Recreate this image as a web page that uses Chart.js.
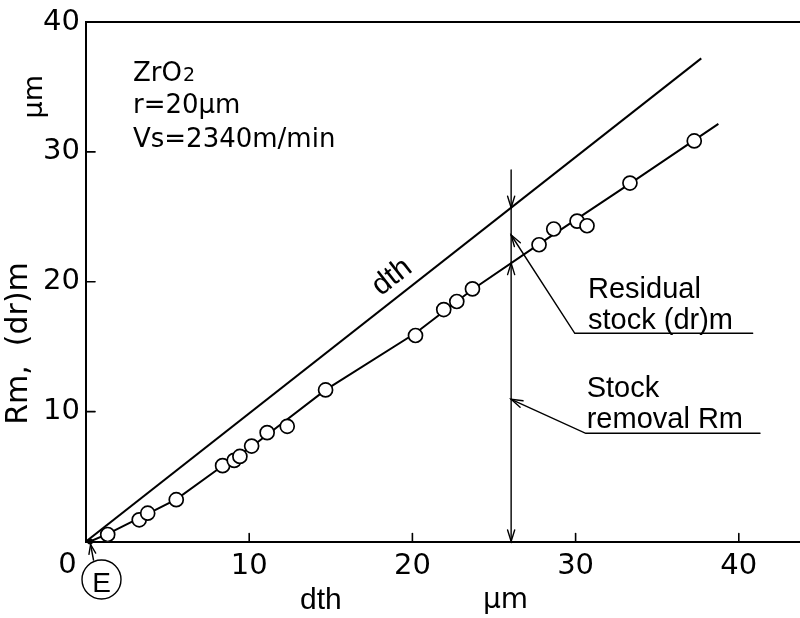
<!DOCTYPE html>
<html>
<head>
<meta charset="utf-8">
<title>ZrO2 stock removal</title>
<script src="https://cdn.jsdelivr.net/npm/chart.js@4/dist/chart.umd.min.js"></script>
<style>
  html, body { margin: 0; padding: 0; background: #fff; }
  #chart { display: block; }
</style>
</head>
<body>
<canvas id="chart" width="800" height="618"></canvas>
<script>
// measured points: theoretical depth dth vs. stock removal Rm (um)
const dthValues = [1.33, 3.26, 3.78, 5.53, 8.37, 9.08, 9.43, 10.15, 11.10, 12.33, 14.68,
                   20.19, 21.92, 22.72, 23.68, 27.76, 28.66, 30.09, 30.70, 33.33, 37.27];
const rmValues  = [0.54, 1.67, 2.18, 3.22, 5.84, 6.25, 6.55, 7.35, 8.38, 8.87, 11.67,
                   15.86, 17.86, 18.48, 19.45, 22.85, 24.06, 24.67, 24.31, 27.60, 30.84];

// curve drawn through the measurements
const fitX = [0.25, 1.33, 3.5, 5.53, 8.4, 10.15, 14.68, 20.2, 23.68, 27.76, 33.33, 38.75];
const fitY = [0, 0.58, 1.95, 3.25, 5.85, 7.3, 11.67, 16.05, 19.4, 22.9, 27.55, 32.15];

// reference line Rm = dth
const dthLineX = [0, 37.7];
const dthLineY = [0, 37.2];

const xTicks = [0, 10, 20, 30, 40];
const yTicks = [0, 10, 20, 30, 40];

// depth where residual stock / stock removal are shown
const markX = 26.05;
const markTop = 28.6;
const elasticX = 0.25;

const toPoints = (xs, ys) => xs.map((v, i) => ({ x: v, y: ys[i] }));

function interp(xs, ys, v) {
  for (let i = 1; i < xs.length; i++) {
    if (v <= xs[i]) {
      const t = (v - xs[i - 1]) / (xs[i] - xs[i - 1]);
      return ys[i - 1] + t * (ys[i] - ys[i - 1]);
    }
  }
  return ys[ys.length - 1];
}

function seg(ctx, x1, y1, x2, y2) {
  ctx.beginPath();
  ctx.moveTo(x1, y1);
  ctx.lineTo(x2, y2);
  ctx.stroke();
}

// open V arrowhead, tip at (tx, ty), coming from (fx, fy)
function arrowHead(ctx, tx, ty, fx, fy, len = 12, spread = 0.3) {
  const a = Math.atan2(fy - ty, fx - tx);
  ctx.beginPath();
  ctx.moveTo(tx + len * Math.cos(a - spread), ty + len * Math.sin(a - spread));
  ctx.lineTo(tx, ty);
  ctx.lineTo(tx + len * Math.cos(a + spread), ty + len * Math.sin(a + spread));
  ctx.stroke();
}

function rotatedText(ctx, text, x, y, angle, font) {
  ctx.save();
  ctx.translate(x, y);
  ctx.rotate(angle);
  ctx.font = font;
  ctx.textAlign = 'center';
  ctx.fillText(text, 0, 0);
  ctx.restore();
}

const annotations = {
  id: 'annotations',
  afterDraw(chart) {
    const { ctx, chartArea: area, scales: { x, y } } = chart;
    const px = v => x.getPixelForValue(v);
    const py = v => y.getPixelForValue(v);
    ctx.save();
    ctx.strokeStyle = '#000';
    ctx.fillStyle = '#000';
    ctx.lineCap = 'round';

    // top frame line
    ctx.lineWidth = 2;
    seg(ctx, area.left, area.top, area.right, area.top);

    // inward tick marks
    ctx.lineWidth = 1.6;
    xTicks.filter(v => v > 0).forEach(v => seg(ctx, px(v), area.bottom, px(v), area.bottom - 8));
    yTicks.filter(v => v > 0 && v < 40).forEach(v => seg(ctx, area.left, py(v), area.left + 9, py(v)));

    // vertical marker with arrows to both lines
    ctx.lineWidth = 1.4;
    const mx = px(markX);
    const dthAt = interp(dthLineX, dthLineY, markX);
    const fitAt = interp(fitX, fitY, markX);
    seg(ctx, mx, py(markTop), mx, py(0));
    arrowHead(ctx, mx, py(dthAt), mx, py(markTop));
    arrowHead(ctx, mx, py(fitAt), mx, py(0));
    arrowHead(ctx, mx, py(0), mx, py(markTop));

    // leader: residual stock
    ctx.beginPath();
    ctx.moveTo(mx, py(23.6));
    ctx.lineTo(px(29.95), py(16.03));
    ctx.lineTo(px(40.85), py(16.03));
    ctx.stroke();
    arrowHead(ctx, mx, py(23.6), px(29.95), py(16.03));

    // leader: stock removal
    ctx.beginPath();
    ctx.moveTo(mx, py(10.95));
    ctx.lineTo(px(30.62), py(8.33));
    ctx.lineTo(px(41.3), py(8.33));
    ctx.stroke();
    arrowHead(ctx, mx, py(10.95), px(30.62), py(8.33));

    // elastic point E
    ctx.beginPath();
    ctx.arc(px(elasticX), py(0), 3, 0, Math.PI * 2);
    ctx.fill();
    seg(ctx, 93.5, 560, px(elasticX) + 0.5, py(0) + 3);
    arrowHead(ctx, px(elasticX) + 0.5, py(0) + 3, 93.5, 560, 10, 0.35);
    ctx.beginPath();
    ctx.arc(101.5, 579.5, 19.5, 0, Math.PI * 2);
    ctx.stroke();
    ctx.font = '28px "Liberation Sans"';
    ctx.textAlign = 'center';
    ctx.textBaseline = 'alphabetic';
    ctx.fillText('E', 101.5, 591.5);

    // origin label
    ctx.font = '29px "DejaVu Sans"';
    ctx.fillText('0', 67.5, 573);

    // axis titles
    rotatedText(ctx, 'Rm,  (dr)m', 26.7, 343.5, -Math.PI / 2, '30px "DejaVu Sans"');
    rotatedText(ctx, 'µm', 41.7, 96.7, -Math.PI / 2, '27px "DejaVu Sans"');
    ctx.textAlign = 'left';
    ctx.font = '30px "Liberation Sans"';
    ctx.fillText('dth', 300, 609);
    ctx.font = '28px "DejaVu Sans"';
    ctx.fillText('µm', 483, 608);

    // label along the dth line
    ctx.save();
    ctx.translate(392, 277);
    const slopePx = (py(0) - py(dthLineY[1])) / (px(dthLineX[1]) - px(0));
    ctx.rotate(-Math.atan(slopePx));
    ctx.font = '30px "Liberation Sans"';
    ctx.textAlign = 'center';
    ctx.textBaseline = 'middle';
    ctx.fillText('dth', 0, 0);
    ctx.restore();

    // grinding conditions
    ctx.textAlign = 'left';
    ctx.textBaseline = 'alphabetic';
    ctx.font = '26px "DejaVu Sans"';
    ctx.fillText('ZrO', px(2.88), py(35.45));
    const zw = ctx.measureText('ZrO').width;
    ctx.font = '19px "DejaVu Sans"';
    ctx.fillText('2', px(2.88) + zw + 1, py(35.45));
    ctx.font = '26px "DejaVu Sans"';
    ctx.fillText('r=20µm', px(2.88), py(32.99));
    ctx.fillText('Vs=2340m/min', px(2.88), py(30.37));

    // right-hand notes
    ctx.font = '29px "Liberation Sans"';
    ctx.fillText('Residual', px(30.76), py(18.75));
    ctx.fillText('stock (dr)m', px(30.76), py(16.33));
    ctx.fillText('Stock', px(30.68), py(11.12));
    ctx.fillText('removal Rm', px(30.68), py(8.71));

    ctx.restore();
  }
};

const ctx = document.getElementById('chart').getContext('2d');
new Chart(ctx, {
  type: 'scatter',
  data: {
    datasets: [
      {
        label: 'measured',
        data: toPoints(dthValues, rmValues),
        pointRadius: 7,
        pointBorderWidth: 1.7,
        pointBackgroundColor: '#fff',
        pointBorderColor: '#000',
        showLine: false
      },
      {
        label: 'curve',
        data: toPoints(fitX, fitY),
        showLine: true,
        borderColor: '#000',
        borderWidth: 2,
        pointRadius: 0,
        tension: 0
      },
      {
        label: 'dth',
        data: toPoints(dthLineX, dthLineY),
        showLine: true,
        borderColor: '#000',
        borderWidth: 2,
        pointRadius: 0
      }
    ]
  },
  options: {
    responsive: false,
    animation: false,
    // the x axis runs right up to the canvas edge
    layout: { autoPadding: false, padding: { top: 22, right: 0, left: 0, bottom: 0 } },
    plugins: {
      legend: { display: false },
      tooltip: { enabled: false }
    },
    scales: {
      x: {
        type: 'linear',
        min: 0,
        max: 43.75,
        afterBuildTicks: scale => { scale.ticks = xTicks.map(v => ({ value: v })); },
        afterFit: scale => {
          scale.height = 76.5;
          scale.paddingLeft = 0;
          scale.paddingRight = 0;
        },
        grid: { display: false, drawTicks: false },
        border: { display: true, color: '#000', width: 2 },
        ticks: {
          padding: 8,
          color: '#000',
          font: { family: 'DejaVu Sans', size: 29 },
          callback: v => (v === 0 ? '' : v)
        }
      },
      y: {
        type: 'linear',
        min: 0,
        max: 40,
        afterBuildTicks: scale => { scale.ticks = yTicks.map(v => ({ value: v })); },
        afterFit: scale => {
          scale.width = 86;
          scale.paddingTop = 0;
          scale.paddingBottom = 0;
        },
        grid: { display: false, drawTicks: false },
        border: { display: true, color: '#000', width: 2 },
        ticks: {
          padding: 6,
          color: '#000',
          font: { family: 'DejaVu Sans', size: 29 },
          callback: v => (v === 0 ? '' : v)
        }
      }
    }
  },
  plugins: [annotations]
});
</script>
</body>
</html>
